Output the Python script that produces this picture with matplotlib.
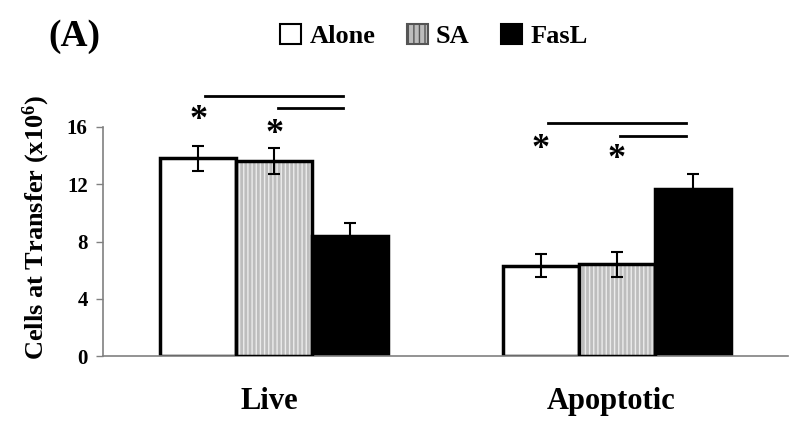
import matplotlib
matplotlib.use("Agg")
import matplotlib.pyplot as plt
from matplotlib.patches import Patch
import numpy as np

plt.rcParams['font.family'] = ['Liberation Serif', 'DejaVu Serif']
plt.rcParams['font.weight'] = 'bold'
plt.rcParams['mathtext.fontset'] = 'custom'
plt.rcParams['mathtext.rm'] = 'Liberation Serif:bold'
plt.rcParams['mathtext.it'] = 'Liberation Serif:bold'
plt.rcParams['mathtext.bf'] = 'Liberation Serif:bold'

categories = ["Live", "Apoptotic"]
series = ["Alone", "SA", "FasL"]
alone = [13.8, 6.3]
sa = [13.6, 6.4]
fasl = [8.35, 11.7]
alone_err = [0.85, 0.8]
sa_err = [0.9, 0.9]
fasl_err = [0.95, 1.0]
yticks = [0, 4, 8, 12, 16]

fig = plt.figure(figsize=(8, 4.24), dpi=100)
ax = fig.add_axes([103/800, 1-356/424, (788-103)/800, (356-127)/424])

x = np.arange(len(categories))
w = 0.222
offs = [-w, 0, w]
vals = [alone, sa, fasl]
errs = [alone_err, sa_err, fasl_err]

# Alone
ax.bar(x + offs[0], alone, w, color='white', edgecolor='black', linewidth=2.5, zorder=2)
# SA: gray with light vertical stripes
ax.bar(x + offs[1], sa, w, color='#bdbdbd', edgecolor='#ececec', linewidth=0, hatch='||||', zorder=2)
ax.bar(x + offs[1], sa, w, color='none', edgecolor='black', linewidth=2.5, zorder=3)
# FasL
ax.bar(x + offs[2], fasl, w, color='black', edgecolor='black', linewidth=2.5, zorder=2)

for o, v, e in zip(offs, vals, errs):
    ax.errorbar(x + o, v, yerr=e, fmt='none', ecolor='black', elinewidth=1.5,
                capsize=4, capthick=1.5, zorder=4)

ax.set_xlim(-0.5, 1.5)
ax.set_ylim(0, 16)
ax.set_yticks(yticks)
ax.set_yticklabels([str(t) for t in yticks], fontsize=15, fontweight='bold')
ax.set_xticks(x - 0.015)
ax.set_xticklabels(categories, fontsize=22, fontweight='bold')
ax.tick_params(axis='x', length=0, pad=22)
ax.tick_params(axis='y', length=5, color='#808080', width=1, pad=6)
for s in ['top', 'right']:
    ax.spines[s].set_visible(False)
for s in ['left', 'bottom']:
    ax.spines[s].set_color('#808080')
    ax.spines[s].set_linewidth(1.2)

ax.set_ylabel('Cells at Transfer (x10$^{6}$)', fontsize=19, fontweight='bold')
ax.yaxis.set_label_coords(-0.0745, 0.56)

# significance lines and asterisks
sig_long = [18.2, 16.3]
sig_short = [17.3, 15.4]
star1 = [16.45, 14.45]
star2 = [15.45, 13.7]
for i in range(2):
    ax.plot([x[i] + offs[0] + 0.02, x[i] + offs[2] - 0.02], [sig_long[i]] * 2, color='black', lw=2, clip_on=False)
    ax.plot([x[i] + offs[1] + 0.01, x[i] + offs[2] - 0.02], [sig_short[i]] * 2, color='black', lw=2, clip_on=False)
    ax.text(x[i] + offs[0], star1[i], '*', fontsize=26, ha='center', va='center', clip_on=False)
    ax.text(x[i] + offs[1], star2[i], '*', fontsize=26, ha='center', va='center', clip_on=False)

handles = [Patch(facecolor='white', edgecolor='black', linewidth=1.5),
           Patch(facecolor='#bdbdbd', edgecolor='#555555', linewidth=1.5, hatch='|||'),
           Patch(facecolor='black', edgecolor='black', linewidth=1.5)]
fig.legend(handles, series, ncol=3, loc='center', bbox_to_anchor=(434/800, 1-36/424),
           frameon=False, handlelength=0.8, handleheight=0.8, handletextpad=0.3,
           columnspacing=1.2, prop={'family': 'Liberation Serif', 'weight': 'bold', 'size': 19})

fig.text(74/800, 1-36/424, '(A)', fontsize=27, fontweight='bold', ha='center', va='center')

fig.savefig('out.png', dpi=100)
